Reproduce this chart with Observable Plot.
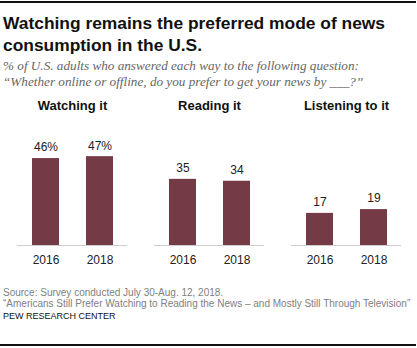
<!DOCTYPE html>
<html>
<head>
<meta charset="utf-8">
<script src="https://cdn.jsdelivr.net/npm/d3@7"></script>
<script src="https://cdn.jsdelivr.net/npm/@observablehq/plot@0.6"></script>
<style>
  body { margin: 0; background: #fff; }
  #wrap { position: relative; width: 417px; height: 348px; overflow: hidden; font-family: "Liberation Sans", Arial, sans-serif; }
  .rule { position: absolute; left: 0; width: 416px; height: 2px; background: #111; }
  #title { position: absolute; left: 3px; top: 12px; font-size: 17.4px; line-height: 22px; font-weight: bold; color: #111; width: 414px; }
  #subtitle { position: absolute; left: 3px; top: 58px; font-family: "Liberation Serif", "Times New Roman", serif; font-style: italic; font-size: 13.2px; line-height: 15.5px; color: #666; width: 414px; }
  #chart { position: absolute; left: 0; top: 92px; }
  #source { position: absolute; left: 3px; top: 287px; font-size: 10px; line-height: 11px; color: #808080; white-space: nowrap; }
  #pew { position: absolute; left: 3px; top: 310.5px; font-size: 9px; line-height: 11px; color: #111; }
</style>
</head>
<body>
<div id="wrap">
  <div class="rule" style="top:1px"></div>
  <div id="title">Watching remains the preferred mode of news consumption in the U.S.</div>
  <div id="subtitle">% of U.S. adults who answered each way to the following question:<br>“Whether online or offline, do you prefer to get your news by ___?”</div>
  <div id="chart"></div>
  <div id="source">Source: Survey conducted July 30-Aug. 12, 2018.<br>“Americans Still Prefer Watching to Reading the News – and Mostly Still Through Television”</div>
  <div id="pew">PEW RESEARCH CENTER</div>
  <div class="rule" style="top:344px"></div>
</div>
<script>
const categories = ["Watching it", "Reading it", "Listening to it"];
const years = ["2016", "2018"];
const values2016 = [46, 35, 17];
const values2018 = [47, 34, 19];

const data = [];
categories.forEach((c, i) => {
  data.push({category: c, year: years[0], value: values2016[i], label: i === 0 ? values2016[i] + "%" : String(values2016[i])});
  data.push({category: c, year: years[1], value: values2018[i], label: i === 0 ? values2018[i] + "%" : String(values2018[i])});
});

const barColor = "#743a46";

const plot = Plot.plot({
  width: 417,
  height: 178,
  marginLeft: 16,
  marginRight: 15,
  marginTop: 58.5,
  marginBottom: 25,
  style: {fontFamily: "'Liberation Sans', Arial, sans-serif", background: "transparent"},
  fx: {domain: categories, padding: 0.2, axis: null, label: null},
  x: {domain: years, paddingInner: 0.5, paddingOuter: 0.26, axis: null, label: null},
  y: {domain: [0, 50], axis: null, label: null},
  marks: [
    Plot.ruleY([0], {stroke: "#cccccc", strokeWidth: 1}),
    Plot.barY(data, {fx: "category", x: "year", y: "value", fill: barColor}),
    Plot.text(data, {fx: "category", x: "year", y: "value", text: "label", dy: -11, fontSize: 12, fill: "#222"}),
    Plot.axisX({tickSize: 0, tickPadding: 10, fontSize: 12, color: "#222", label: null}),
    Plot.text(categories, {fx: d => d, text: d => d, frameAnchor: "top", dy: -50, fontSize: 13, fontWeight: "bold", fill: "#111"})
  ]
});
document.getElementById("chart").appendChild(plot);
</script>
</body>
</html>
